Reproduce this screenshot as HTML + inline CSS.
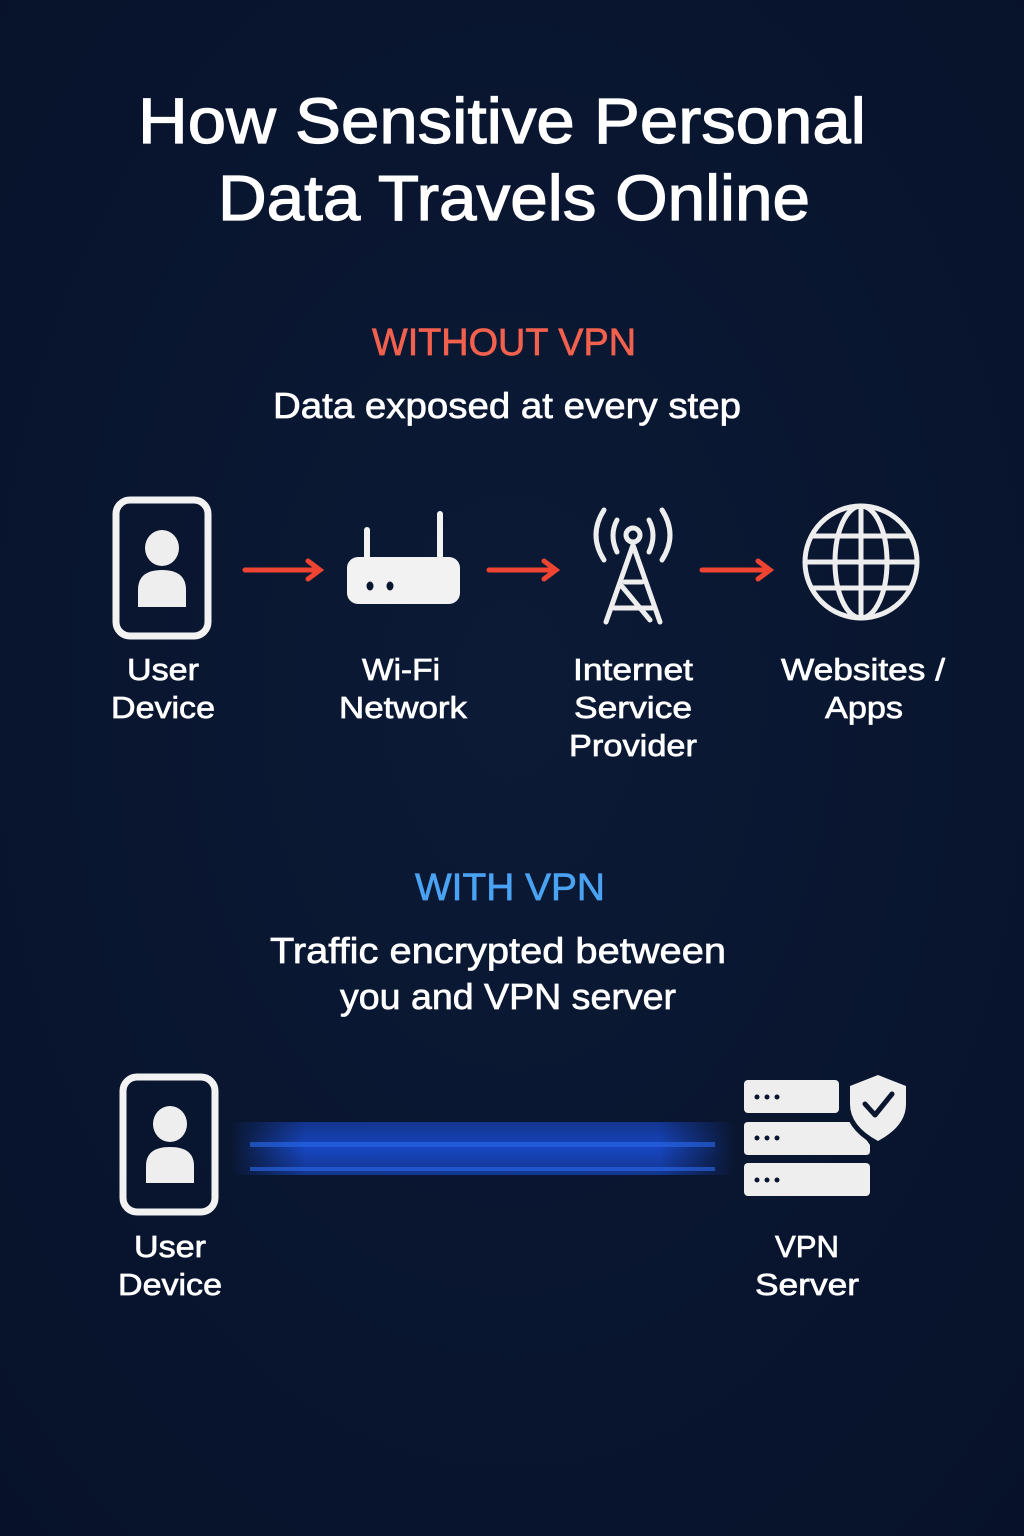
<!DOCTYPE html>
<html><head><meta charset="utf-8"><style>
html,body{margin:0;padding:0;background:#0a1630;}
svg{display:block}
text{font-family:"Liberation Sans",sans-serif;fill:#fff;text-anchor:middle;stroke:#fff;stroke-width:0.7}
</style></head><body>
<svg width="1024" height="1536" viewBox="0 0 1024 1536" xmlns="http://www.w3.org/2000/svg">
<defs>
<radialGradient id="bg" cx="50%" cy="45%" r="75%"><stop offset="0" stop-color="#0c1a36"/><stop offset="1" stop-color="#07122a"/></radialGradient>
<linearGradient id="beam" x1="0" x2="1" y1="0" y2="0">
<stop offset="0" stop-color="#1848c8" stop-opacity="0"/>
<stop offset="0.15" stop-color="#1848c8" stop-opacity="0.95"/>
<stop offset="0.85" stop-color="#1848c8" stop-opacity="0.95"/>
<stop offset="1" stop-color="#1848c8" stop-opacity="0"/>
</linearGradient>
<linearGradient id="beamv" x1="0" x2="0" y1="0" y2="1">
<stop offset="0" stop-color="#0a1630" stop-opacity="0.35"/>
<stop offset="0.5" stop-color="#0a1630" stop-opacity="0"/>
<stop offset="1" stop-color="#0a1630" stop-opacity="0.35"/>
</linearGradient>
</defs>
<rect width="1024" height="1536" fill="url(#bg)"/>

<text x="502" y="143" font-size="64" textLength="728" lengthAdjust="spacingAndGlyphs" style="stroke-width:1.2">How Sensitive Personal</text>
<text x="514" y="220" font-size="64" textLength="592" lengthAdjust="spacingAndGlyphs" style="stroke-width:1.2">Data Travels Online</text>

<text x="504" y="355" font-size="38" style="fill:#f2604e;stroke:#f2604e" textLength="264" lengthAdjust="spacingAndGlyphs">WITHOUT VPN</text>
<text x="507" y="418" font-size="36" textLength="468" lengthAdjust="spacingAndGlyphs">Data exposed at every step</text>

<!-- phone 1 -->
<rect x="116" y="500" width="92" height="136" rx="14" fill="none" stroke="#f2f2f2" stroke-width="7"/>
<ellipse cx="162" cy="548" rx="17" ry="18" fill="#eee"/>
<path d="M138 607 V590 Q138 570 162 570 Q186 570 186 590 V607 Z" fill="#eee"/>

<!-- arrows -->
<g stroke="#f04432" stroke-width="5" fill="none" stroke-linecap="round">
<line x1="245" y1="570" x2="318" y2="570"/><path d="M308 561 L320 570 L308 579"/>
<line x1="489" y1="570" x2="554" y2="570"/><path d="M544 561 L556 570 L544 579"/>
<line x1="702" y1="570" x2="768" y2="570"/><path d="M758 561 L770 570 L758 579"/>
</g>

<!-- router -->
<rect x="347" y="557" width="113" height="47" rx="11" fill="#f2f2f2"/>
<rect x="364" y="527" width="6" height="34" rx="3" fill="#f2f2f2"/>
<rect x="437" y="511" width="6" height="50" rx="3" fill="#f2f2f2"/>
<ellipse cx="370" cy="586" rx="3.5" ry="4.5" fill="#0a1630"/>
<ellipse cx="390" cy="586" rx="3.5" ry="4.5" fill="#0a1630"/>

<!-- tower -->
<g stroke="#eee" stroke-width="5" fill="none" stroke-linecap="round">
<circle cx="633" cy="535" r="7"/>
<path d="M633 545 L606 622 M633 545 L660 622 M620 584 L650 620 M625 582 L642 582 M614 608 L652 608"/>
<path d="M617 520 Q609 535 617 552"/>
<path d="M649 520 Q657 535 649 552"/>
<path d="M604 510 Q588 535 604 560"/>
<path d="M662 510 Q678 535 662 560"/>
</g>

<!-- globe -->
<g stroke="#eee" stroke-width="5" fill="none">
<circle cx="861" cy="562" r="56"/>
<ellipse cx="861" cy="562" rx="26" ry="56"/>
<line x1="861" y1="506" x2="861" y2="618"/>
<line x1="805" y1="562" x2="917" y2="562"/>
<line x1="812" y1="536" x2="910" y2="536"/>
<line x1="812" y1="588" x2="910" y2="588"/>
</g>

<g font-size="31">
<text x="163" y="680" textLength="72" lengthAdjust="spacingAndGlyphs">User</text>
<text x="163" y="718" textLength="104" lengthAdjust="spacingAndGlyphs">Device</text>
<text x="401" y="680" textLength="78" lengthAdjust="spacingAndGlyphs">Wi-Fi</text>
<text x="403" y="718" textLength="128" lengthAdjust="spacingAndGlyphs">Network</text>
<text x="633" y="680" textLength="120" lengthAdjust="spacingAndGlyphs">Internet</text>
<text x="633" y="718" textLength="118" lengthAdjust="spacingAndGlyphs">Service</text>
<text x="633" y="756" textLength="128" lengthAdjust="spacingAndGlyphs">Provider</text>
<text x="863" y="680" textLength="164" lengthAdjust="spacingAndGlyphs">Websites /</text>
<text x="864" y="718" textLength="78" lengthAdjust="spacingAndGlyphs">Apps</text>
</g>

<text x="510" y="900" font-size="38" style="fill:#4aa2f2;stroke:#4aa2f2" textLength="190" lengthAdjust="spacingAndGlyphs">WITH VPN</text>
<text x="498" y="963" font-size="36" textLength="456" lengthAdjust="spacingAndGlyphs">Traffic encrypted between</text>
<text x="508" y="1009" font-size="36" textLength="336" lengthAdjust="spacingAndGlyphs">you and VPN server</text>

<!-- beam -->
<rect x="230" y="1122" width="505" height="53" fill="url(#beam)"/>
<rect x="230" y="1122" width="505" height="53" fill="url(#beamv)"/>
<rect x="250" y="1142" width="465" height="5" fill="#2a6af0" opacity="0.6"/>
<rect x="250" y="1167" width="465" height="4" fill="#2a6af0" opacity="0.6"/>

<!-- phone 2 -->
<rect x="123" y="1077" width="92" height="135" rx="14" fill="none" stroke="#f2f2f2" stroke-width="7"/>
<ellipse cx="170" cy="1124" rx="17" ry="18" fill="#eee"/>
<path d="M146 1183 V1166 Q146 1147 170 1147 Q194 1147 194 1166 V1183 Z" fill="#eee"/>

<!-- servers -->
<rect x="744" y="1080" width="95" height="33" rx="4" fill="#eee"/>
<path d="M748 1122 H854 L870 1145 V1151 Q870 1155 866 1155 H748 Q744 1155 744 1151 V1126 Q744 1122 748 1122 Z" fill="#eee"/>
<rect x="744" y="1163" width="126" height="33" rx="4" fill="#eee"/>
<g fill="#0a1630">
<circle cx="757" cy="1097" r="2.5"/><circle cx="767" cy="1097" r="2.5"/><circle cx="777" cy="1097" r="2.5"/>
<circle cx="757" cy="1138" r="2.5"/><circle cx="767" cy="1138" r="2.5"/><circle cx="777" cy="1138" r="2.5"/>
<circle cx="757" cy="1180" r="2.5"/><circle cx="767" cy="1180" r="2.5"/><circle cx="777" cy="1180" r="2.5"/>
</g>
<path d="M878 1070 L911 1083 V1104 Q911 1130 878 1147 Q845 1130 845 1104 V1083 Z" fill="#0a1630"/>
<path d="M878 1075 L906 1086 V1104 Q906 1126 878 1141 Q850 1126 850 1104 V1086 Z" fill="#eee"/>
<path d="M865 1104 L875 1115 L892 1094" stroke="#0a1630" stroke-width="5" fill="none" stroke-linecap="round" stroke-linejoin="round"/>

<g font-size="31">
<text x="170" y="1257" textLength="72" lengthAdjust="spacingAndGlyphs">User</text>
<text x="170" y="1295" textLength="104" lengthAdjust="spacingAndGlyphs">Device</text>
<text x="807" y="1257" textLength="64" lengthAdjust="spacingAndGlyphs">VPN</text>
<text x="807" y="1295" textLength="104" lengthAdjust="spacingAndGlyphs">Server</text>
</g>
</svg>
</body></html>
